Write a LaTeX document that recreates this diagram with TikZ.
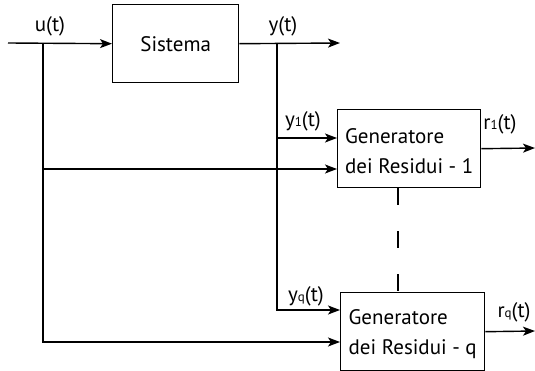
\documentclass[tikz,border=0pt]{standalone}
\usepackage{fontspec}
\setmainfont{PT Sans}
\usetikzlibrary{arrows.meta}
% small index set on the baseline, as in y1(t)
\newcommand\idx[1]{{\fontsize{13}{13}\selectfont #1}}
% invisible prop that sets the first line a little lower in its block
\newcommand\toprop{\rule{0pt}{20pt}}
\begin{document}
\begin{tikzpicture}[x=1pt,y=-1pt,
  blk/.style={draw, line width=1.4pt, inner sep=0pt, anchor=north west,
              font=\fontsize{21}{30}\selectfont},
  wire/.style={line width=1.4pt},
  flow/.style={wire, -{Stealth[length=12pt,width=9pt,inset=3pt]}},
  lbl/.style={font=\fontsize{21}{21}\selectfont, inner sep=0pt, anchor=base}]
\useasboundingbox (0,0) rectangle (535,371);

% blocks
\node[blk, minimum width=126pt, minimum height=78pt] (sys) at (112,4) {Sistema};
\node[blk, minimum width=143pt, minimum height=78pt, align=left] (gen1) at (337,109)
  {\toprop Generatore\\dei Residui - 1};
\node[blk, minimum width=144pt, minimum height=78pt, align=left] (genq) at (340,292)
  {\toprop Generatore\\dei Residui - q};

% branch points and free ends
\coordinate (in)   at (8,43);
\coordinate (ub)   at (43,43);
\coordinate (yb)   at (277,43);
\coordinate (yout) at (340,43);
\coordinate (y1)   at (337,138);
\coordinate (u1)   at (337,169);
\coordinate (yq)   at (340,310);
\coordinate (uq)   at (340,342);
\coordinate (r1)   at (535,148);
\coordinate (rq)   at (535,331);
\coordinate (dx)   at (398,0);

% signal lines
\draw[flow] (in) -- (sys.west);
\draw[flow] (sys.east) -- (yout);
\draw[flow] (ub) |- (uq);
\draw[flow] (ub |- u1) -- (u1);
\draw[flow] (yb) |- (yq);
\draw[flow] (yb |- y1) -- (y1);
\draw[flow] (gen1.east) -- (r1);
\draw[flow] (genq.east) -- (rq);

% further generators between 1 and q
\draw[wire, dash pattern=on 17pt off 26pt] (gen1.south -| dx) -- (genq.north -| dx);

% signal names
\node[lbl] (lu)  at (50,32)  {u(t)};
\node[lbl] (ly)  at (283,32) {y(t)};
\node[lbl] (ly1) at (303,127) {y\idx{1}(t)};
\node[lbl] (lyq) at (306,301) {y\idx{q}(t)};
\node[lbl] (lr1) at (500,130) {r\idx{1}(t)};
\node[lbl] (lrq) at (514,317) {r\idx{q}(t)};
\end{tikzpicture}
\end{document}
